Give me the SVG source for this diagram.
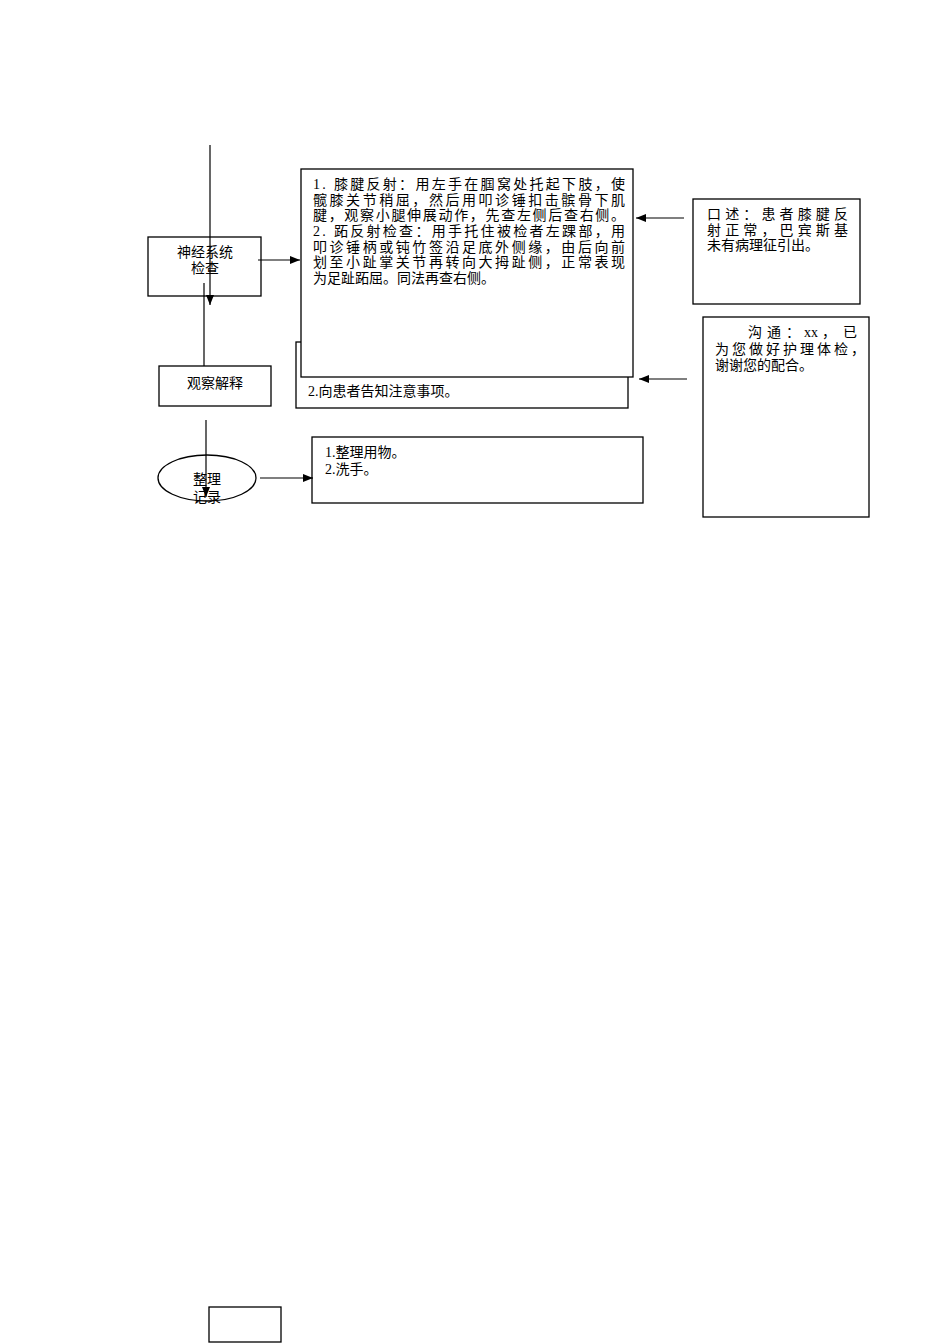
<svg xmlns="http://www.w3.org/2000/svg" width="950" height="1344" viewBox="0 0 950 1344">
<style>
.box{fill:#fff;stroke:#000;stroke-width:1.3}
.ln{stroke:#000;stroke-width:1.2;fill:none}
text{font-family:"Liberation Serif","Noto Sans CJK SC",serif;font-size:14px;fill:#000}
</style>
<defs>
<marker id="ah" markerWidth="10" markerHeight="8" refX="10" refY="4" orient="auto" markerUnits="userSpaceOnUse">
<path d="M0,0 L10,4 L0,8 z" fill="#000"/>
</marker>
</defs>
<rect width="950" height="1344" fill="#fff"/>

<g id="node-notice">
<rect class="box" x="296" y="342" width="332" height="66"/>
<text x="308" y="396">2.向患者告知注意事项。</text>
</g>

<g id="node-reflex">
<rect class="box" x="301" y="169" width="332" height="208"/>
<text x="313" y="189" textLength="312" lengthAdjust="spacing">1. 膝腱反射：用左手在腘窝处托起下肢，使</text>
<text x="313" y="205" textLength="312" lengthAdjust="spacing">髋膝关节稍屈，然后用叩诊锤扣击髌骨下肌</text>
<text x="313" y="220" textLength="312" lengthAdjust="spacing">腱，观察小腿伸展动作，先查左侧后查右侧。</text>
<text x="313" y="236" textLength="312" lengthAdjust="spacing">2. 跖反射检查：用手托住被检者左踝部，用</text>
<text x="313" y="252" textLength="312" lengthAdjust="spacing">叩诊锤柄或钝竹签沿足底外侧缘，由后向前</text>
<text x="313" y="267" textLength="312" lengthAdjust="spacing">划至小趾掌关节再转向大拇趾侧，正常表现</text>
<text x="313" y="283">为足趾跖屈。同法再查右侧。</text>
</g>

<g id="node-neuro">
<rect class="box" x="148" y="237" width="113" height="59"/>
<text x="205" y="257" text-anchor="middle">神经系统</text>
<text x="205" y="273" text-anchor="middle">检查</text>
</g>

<g id="node-observe">
<rect class="box" x="159" y="366" width="112" height="40"/>
<text x="215" y="388" text-anchor="middle">观察解释</text>
</g>

<g id="node-record">
<ellipse class="box" cx="207" cy="478" rx="49" ry="23"/>
<text x="207" y="484" text-anchor="middle">整理</text>
<text x="207" y="502" text-anchor="middle">记录</text>
</g>

<g id="node-tidy">
<rect class="box" x="312" y="437" width="331" height="66"/>
<text x="325" y="457">1.整理用物。</text>
<text x="325" y="474">2.洗手。</text>
</g>

<g id="node-oral">
<rect class="box" x="693" y="199" width="167" height="105"/>
<text x="707" y="219" textLength="141" lengthAdjust="spacing">口述：患者膝腱反</text>
<text x="707" y="235" textLength="141" lengthAdjust="spacing">射正常，巴宾斯基</text>
<text x="707" y="250">未有病理征引出。</text>
</g>

<g id="node-talk">
<rect class="box" x="703" y="317" width="166" height="200"/>
<text y="337"><tspan x="748">沟</tspan><tspan x="767">通</tspan><tspan x="786">：</tspan><tspan x="804">xx</tspan><tspan x="822">，</tspan><tspan x="843">已</tspan></text>
<text x="715" y="354" textLength="150" lengthAdjust="spacing">为您做好护理体检，</text>
<text x="715" y="370">谢谢您的配合。</text>
</g>

<g id="node-blank">
<rect class="box" x="209" y="1307" width="72" height="35"/>
</g>

<g id="connectors">
<line class="ln" x1="210" y1="145" x2="210" y2="305" marker-end="url(#ah)"/>
<line class="ln" x1="204" y1="283" x2="204" y2="366"/>
<line class="ln" x1="258" y1="260" x2="300" y2="260" marker-end="url(#ah)"/>
<line class="ln" x1="684" y1="218" x2="636" y2="218" marker-end="url(#ah)"/>
<line class="ln" x1="687" y1="379" x2="639" y2="379" marker-end="url(#ah)"/>
<line class="ln" x1="206" y1="420" x2="206" y2="497" marker-end="url(#ah)"/>
<line class="ln" x1="260" y1="478" x2="313" y2="478" marker-end="url(#ah)"/>
</g>
</svg>
